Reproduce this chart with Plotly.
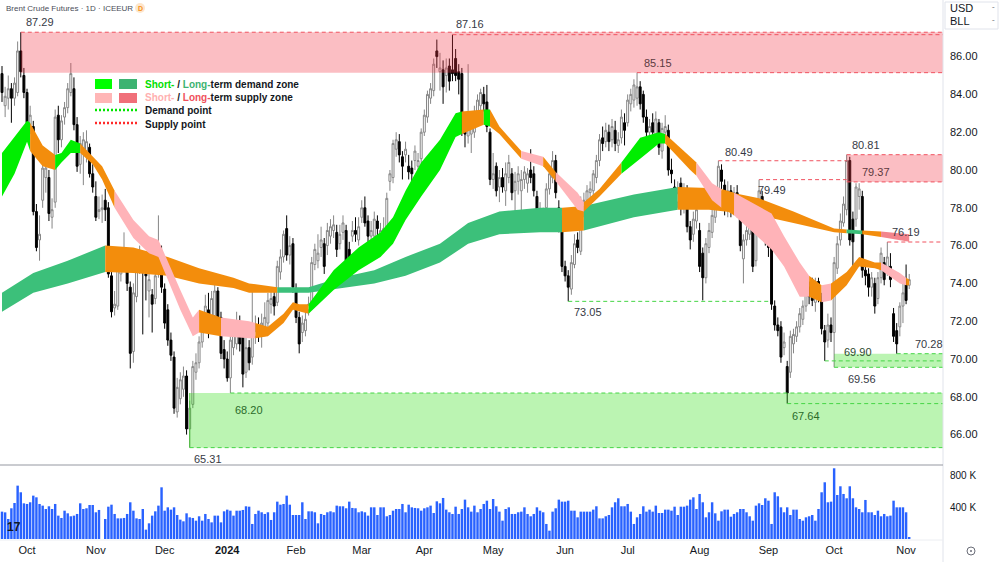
import plotly.graph_objects as go
import pandas as pd

# ---------------- trading days shown on the chart ----------------
holidays = ["2023-12-25", "2024-01-01", "2024-03-29"]
dates = [d for d in pd.bdate_range("2023-09-20", "2024-11-04")
         if d.strftime("%Y-%m-%d") not in holidays]

month_keys = ["2023-10", "2023-11", "2023-12", "2024-01", "2024-02", "2024-03", "2024-04",
              "2024-05", "2024-06", "2024-07", "2024-08", "2024-09", "2024-10", "2024-11"]
month_labels = ["Oct", "Nov", "Dec", "<b>2024</b>", "Feb", "Mar", "Apr",
                "May", "Jun", "Jul", "Aug", "Sep", "Oct", "Nov"]

# ---------------- daily OHLC (USD/bbl) ----------------
opens = [
    85.1, 83.4, 83.8, 84.3, 83.8, 84.1, 86.3, 85.0, 84.1, 82.4,
    82.3, 77.8, 76.3, 78.4, 79.6, 79.6, 77.5, 78.3, 82.9, 81.6,
    82.8, 83.3, 84.1, 84.3, 82.4, 80.3, 80.9, 81.0, 81.2, 79.8,
    78.6, 77.8, 77.9, 78.4, 78.0, 74.4, 72.7, 72.8, 74.5, 75.2,
    75.2, 73.8, 70.4, 73.3, 74.9, 75.3, 74.5, 73.6, 73.4, 73.2,
    74.6, 75.6, 73.7, 72.6, 71.0, 70.1, 67.2, 67.9, 68.4, 69.1,
    66.3, 67.6, 69.3, 69.8, 70.9, 72.2, 72.6, 72.0, 72.3, 73.6,
    72.2, 70.5, 70.0, 69.0, 70.6, 70.8, 71.9, 71.2, 69.3, 70.6,
    70.1, 71.2, 71.7, 71.2, 71.6, 71.9, 72.9, 73.3, 73.0, 74.6,
    75.4, 76.9, 75.5, 76.1, 73.7, 72.2, 71.4, 71.5, 72.6, 72.8,
    75.0, 75.2, 75.9, 76.1, 76.0, 76.5, 76.8, 76.7, 76.1, 76.7,
    76.8, 75.8, 76.5, 76.8, 76.3, 77.5, 78.0, 77.3, 76.5, 76.5,
    77.3, 76.4, 76.6, 76.8, 79.4, 79.6, 81.1, 81.5, 80.7, 80.8,
    80.2, 80.1, 80.5, 80.2, 80.6, 82.0, 82.8, 83.8, 84.2, 86.3,
    85.2, 85.3, 85.0, 85.5, 85.3, 85.9, 85.2, 85.1, 82.3, 81.8,
    81.9, 82.0, 82.6, 83.4, 84.0, 83.6, 82.0, 79.5, 80.2, 79.1,
    79.6, 78.9, 79.6, 79.8, 78.9, 79.4, 78.9, 79.5, 79.3, 80.0,
    79.8, 78.6, 77.6, 77.6, 78.0, 79.0, 79.6, 80.5, 78.0, 77.3,
    74.9, 74.4, 73.7, 75.0, 76.3, 75.7, 77.9, 78.4, 78.8, 78.9,
    79.6, 80.5, 81.7, 81.5, 82.0, 81.6, 82.1, 81.3, 81.7, 82.5,
    82.5, 83.5, 83.7, 83.8, 84.4, 84.0, 82.8, 82.0, 82.5, 81.9,
    82.5, 81.0, 82.0, 82.1, 80.0, 79.1, 78.3, 79.3, 78.0, 78.9,
    77.0, 76.6, 77.3, 76.8, 75.6, 74.3, 75.9, 76.7, 77.5, 78.3,
    80.0, 79.2, 77.9, 78.9, 77.9, 78.8, 77.9, 75.3, 76.3, 76.6,
    77.2, 75.2, 77.6, 78.6, 77.6, 76.6, 75.9, 72.8, 71.8, 71.7,
    70.6, 69.6, 69.3, 70.8, 71.2, 71.7, 72.1, 72.8, 73.8, 73.7,
    73.0, 74.1, 73.3, 71.5, 71.0, 71.8, 71.4, 74.8, 76.3, 77.2,
    77.9, 80.5, 77.4, 77.4, 78.6, 78.6, 74.7, 74.5, 73.8, 74.0,
    73.2, 74.3, 75.1, 74.7, 74.9, 72.4, 71.5, 71.7, 72.8, 74.2,
    73.9,
]
highs = [
    85.5, 84.4, 85.0, 84.6, 84.9, 86.8, 87.29, 85.4, 84.3, 83.4,
    82.6, 78.2, 77.6, 80.4, 80.3, 80.0, 78.5, 83.2, 83.4, 82.9,
    83.6, 84.6, 85.66, 84.9, 82.8, 81.8, 82.0, 82.1, 81.4, 80.3,
    79.4, 78.6, 78.7, 79.0, 78.3, 74.6, 73.6, 75.2, 75.6, 76.7,
    75.6, 74.1, 74.0, 75.5, 76.0, 75.6, 74.9, 74.6, 73.7, 74.7,
    77.6, 76.0, 74.0, 72.9, 71.4, 70.4, 69.0, 69.3, 69.6, 69.4,
    67.8, 69.9, 70.3, 71.2, 72.5, 73.4, 73.5, 73.6, 74.4, 73.8,
    72.5, 71.0, 70.4, 71.4, 72.0, 72.5, 72.3, 71.6, 71.3, 71.0,
    73.8, 72.3, 72.2, 72.4, 73.0, 73.5, 73.7, 73.8, 75.2, 75.8,
    76.8, 77.6, 76.5, 76.4, 74.0, 72.5, 72.3, 72.6, 73.3, 75.4,
    76.1, 76.6, 77.0, 76.4, 77.2, 77.4, 77.6, 77.1, 77.1, 77.6,
    77.1, 76.2, 77.3, 77.5, 77.5, 78.4, 78.6, 77.6, 77.3, 77.8,
    77.6, 77.2, 77.5, 78.8, 80.0, 81.6, 82.0, 81.9, 81.0, 81.5,
    80.8, 80.5, 81.3, 80.9, 82.2, 83.2, 84.2, 84.6, 85.9, 86.9,
    86.2, 85.8, 85.9, 85.9, 87.16, 86.4, 85.6, 85.4, 82.6, 85.6,
    83.0, 83.4, 84.0, 84.3, 84.4, 84.5, 82.2, 80.9, 80.4, 80.0,
    80.1, 80.4, 80.8, 80.1, 79.9, 80.2, 80.0, 80.2, 80.1, 81.1,
    80.2, 78.9, 78.3, 78.0, 79.3, 80.0, 81.0, 80.8, 78.4, 77.6,
    75.2, 74.7, 75.5, 76.6, 76.7, 78.6, 78.8, 79.2, 79.4, 80.0,
    80.8, 81.9, 82.3, 82.5, 82.4, 82.7, 82.6, 82.0, 83.2, 83.0,
    84.0, 84.3, 84.8, 85.15, 84.7, 84.2, 83.2, 82.7, 83.0, 83.1,
    82.7, 82.5, 82.9, 82.4, 80.6, 79.5, 79.4, 79.6, 79.3, 79.2,
    77.3, 77.8, 78.3, 77.2, 75.9, 76.4, 77.2, 78.0, 78.6, 80.49,
    80.3, 79.5, 79.4, 79.2, 79.1, 79.2, 78.1, 76.6, 77.2, 77.6,
    77.4, 77.6, 79.49, 78.9, 77.9, 76.9, 76.2, 73.1, 72.2, 72.0,
    71.4, 69.9, 71.5, 71.6, 72.0, 72.7, 73.1, 74.2, 74.1, 74.3,
    74.3, 74.3, 73.5, 71.8, 72.4, 72.2, 75.4, 76.5, 77.7, 78.6,
    80.81, 80.7, 77.8, 79.3, 79.3, 78.9, 75.2, 74.8, 74.6, 74.3,
    74.6, 75.9, 75.4, 76.19, 75.6, 72.7, 71.9, 73.0, 74.1, 75.0,
    74.5,
]
lows = [
    83.6, 82.8, 83.2, 82.5, 83.4, 83.9, 84.9, 83.8, 82.3, 81.9,
    77.6, 75.7, 75.2, 78.0, 78.8, 77.3, 76.9, 78.0, 80.9, 81.2,
    82.4, 83.0, 83.9, 82.1, 79.9, 79.8, 79.2, 80.4, 79.6, 78.8,
    77.3, 77.4, 77.2, 77.3, 74.3, 72.2, 72.3, 72.6, 74.1, 74.9,
    73.6, 69.5, 69.8, 73.0, 74.5, 71.3, 73.1, 72.2, 71.4, 72.9,
    74.3, 73.5, 71.6, 70.7, 69.9, 67.1, 66.9, 67.6, 68.0, 66.0,
    65.31, 67.4, 68.9, 69.5, 70.6, 71.9, 71.1, 71.6, 72.0, 71.9,
    70.0, 69.5, 68.8, 68.2, 70.2, 70.5, 70.4, 68.5, 69.0, 69.4,
    69.7, 70.8, 70.9, 70.6, 71.2, 71.6, 72.4, 72.3, 72.8, 74.2,
    75.1, 75.2, 75.0, 73.5, 71.9, 70.3, 70.9, 71.2, 72.3, 72.6,
    74.7, 74.8, 75.4, 74.5, 75.5, 76.1, 76.4, 75.4, 75.8, 76.3,
    74.9, 74.8, 76.2, 76.2, 76.0, 77.2, 77.0, 76.2, 76.1, 76.2,
    76.4, 75.9, 75.6, 76.6, 78.9, 79.3, 80.7, 80.4, 79.5, 80.4,
    79.5, 79.3, 80.0, 79.9, 80.3, 81.8, 82.5, 83.5, 83.9, 85.4,
    84.2, 83.5, 84.1, 84.2, 84.7, 84.7, 84.0, 81.8, 81.2, 81.4,
    80.9, 81.7, 82.3, 83.0, 83.1, 82.0, 79.2, 79.0, 78.6, 78.3,
    78.8, 78.1, 79.3, 78.4, 77.6, 78.7, 77.2, 79.0, 78.8, 79.3,
    78.6, 77.4, 77.1, 76.8, 77.7, 78.7, 79.3, 78.5, 76.7, 74.6,
    74.1, 73.05, 73.4, 74.8, 75.6, 75.5, 77.5, 78.1, 78.3, 78.6,
    79.3, 80.2, 81.0, 81.2, 81.0, 81.2, 81.0, 80.9, 81.4, 81.3,
    82.3, 83.1, 83.3, 83.4, 83.2, 82.5, 81.5, 81.6, 81.5, 81.5,
    80.8, 80.6, 81.6, 79.7, 79.3, 77.9, 78.0, 77.6, 77.7, 76.7,
    75.8, 76.2, 76.9, 74.6, 73.1, 74.0, 75.6, 76.4, 77.2, 78.0,
    79.0, 77.6, 77.5, 77.5, 77.6, 77.5, 75.7, 74.0, 76.0, 76.3,
    74.6, 74.9, 77.3, 77.3, 76.0, 75.4, 72.6, 71.5, 71.2, 69.8,
    70.2, 67.64, 69.0, 70.3, 70.9, 71.4, 71.8, 72.5, 72.9, 72.8,
    72.5, 73.0, 71.3, 69.90, 70.6, 70.9, 69.56, 74.5, 76.0, 77.0,
    77.6, 76.0, 74.9, 77.0, 77.9, 74.3, 73.9, 73.3, 73.3, 72.4,
    72.9, 74.0, 73.9, 74.4, 73.8, 70.9, 70.28, 71.2, 71.9, 72.9,
    73.7,
]
closes = [
    84.1, 83.9, 84.3, 83.8, 84.6, 86.3, 85.2, 84.1, 82.5, 82.9,
    77.8, 75.9, 76.6, 80.1, 80.1, 77.7, 77.9, 82.8, 81.6, 82.6,
    83.3, 84.3, 85.1, 82.4, 80.2, 81.4, 81.6, 81.5, 79.8, 79.1,
    77.5, 77.9, 78.0, 77.9, 74.5, 72.5, 72.9, 74.7, 75.3, 75.8,
    74.0, 70.3, 73.5, 75.2, 75.3, 74.8, 74.4, 74.2, 72.9, 74.4,
    75.7, 73.8, 71.9, 71.0, 70.2, 67.4, 68.5, 68.9, 69.1, 66.3,
    67.4, 69.6, 69.8, 70.9, 72.2, 72.8, 71.8, 73.2, 73.6, 72.2,
    70.3, 70.0, 69.0, 71.0, 71.6, 71.9, 70.8, 69.2, 70.6, 69.8,
    71.2, 71.5, 71.4, 71.9, 72.2, 73.1, 73.2, 72.8, 74.9, 75.4,
    76.6, 75.5, 76.0, 73.8, 72.2, 70.8, 71.9, 72.1, 72.9, 75.1,
    75.8, 75.6, 76.3, 74.9, 76.8, 77.0, 77.1, 75.8, 76.6, 77.2,
    75.2, 75.3, 76.8, 76.6, 77.0, 78.0, 77.2, 76.5, 76.8, 77.4,
    76.9, 76.8, 76.9, 78.5, 79.8, 81.4, 81.6, 80.8, 80.2, 81.1,
    79.9, 79.8, 81.0, 80.5, 82.0, 82.9, 84.0, 84.3, 85.6, 86.0,
    85.4, 84.4, 85.4, 84.7, 85.1, 85.0, 84.8, 82.1, 81.9, 82.4,
    82.6, 83.0, 83.7, 84.1, 83.5, 82.3, 79.5, 79.8, 78.9, 79.6,
    79.1, 79.8, 80.4, 78.8, 79.4, 79.8, 79.5, 79.9, 79.8, 79.6,
    78.9, 77.7, 77.9, 77.4, 79.0, 79.8, 80.5, 78.8, 77.0, 74.9,
    74.4, 73.8, 75.1, 76.1, 75.9, 78.3, 78.4, 78.9, 79.0, 79.8,
    80.5, 81.6, 81.4, 82.1, 81.5, 82.3, 81.4, 81.6, 82.8, 82.1,
    83.7, 84.0, 84.5, 84.4, 83.5, 82.8, 82.0, 82.3, 82.0, 82.7,
    81.2, 82.2, 82.3, 80.0, 79.8, 78.2, 78.8, 78.0, 78.9, 77.0,
    76.3, 77.4, 77.9, 74.9, 74.3, 76.1, 76.8, 77.6, 78.3, 80.2,
    79.4, 77.9, 78.9, 77.9, 78.8, 78.0, 76.0, 76.3, 76.8, 77.3,
    74.9, 77.3, 78.9, 77.6, 76.3, 75.9, 72.9, 71.8, 71.5, 70.1,
    70.9, 68.2, 71.2, 71.3, 71.7, 72.4, 72.8, 73.8, 73.3, 73.1,
    74.1, 73.5, 71.6, 70.9, 71.8, 71.4, 75.1, 76.1, 77.3, 78.2,
    80.5, 76.3, 76.2, 79.1, 79.0, 74.7, 74.4, 73.8, 74.3, 72.8,
    74.3, 75.6, 74.2, 75.4, 74.2, 71.2, 70.8, 72.8, 73.5, 73.1,
    74.2,
]
# ---------------- daily volume (thousands of contracts) ----------------
volume = [
    342, 333, 250, 384, 450, 667, 584, 446, 438, 459,
    542, 521, 438, 417, 375, 409, 375, 438, 292, 263,
    354, 321, 284, 292, 313, 446, 375, 384, 425, 425,
    334, 363, 0, 250, 404, 429, 313, 258, 258, 263,
    313, 459, 354, 258, 250, 375, 117, 196, 292, 346,
    417, 646, 354, 396, 367, 396, 300, 242, 221, 321,
    271, 263, 229, 284, 229, 313, 250, 208, 292, 292,
    208, 346, 367, 354, 292, 354, 354, 363, 409, 404,
    188, 313, 354, 334, 313, 334, 238, 334, 467, 429,
    438, 542, 429, 300, 300, 300, 459, 250, 346, 346,
    334, 196, 313, 300, 334, 346, 334, 417, 409, 409,
    384, 467, 388, 384, 334, 346, 334, 292, 396, 396,
    300, 396, 396, 284, 300, 354, 375, 375, 438, 334,
    429, 396, 388, 384, 354, 384, 396, 417, 325, 471,
    446, 513, 367, 334, 313, 404, 313, 375, 492, 396,
    342, 417, 334, 375, 438, 479, 375, 500, 409, 342,
    229, 375, 396, 313, 313, 334, 342, 396, 313, 284,
    313, 396, 354, 334, 188, 104, 342, 384, 492, 467,
    467, 479, 354, 354, 271, 342, 342, 342, 342, 367,
    409, 258, 258, 284, 300, 396, 459, 509, 409, 409,
    438, 342, 188, 271, 313, 409, 342, 367, 342, 417,
    325, 325, 367, 367, 354, 404, 300, 404, 404, 417,
    492, 521, 375, 563, 459, 271, 334, 459, 321, 229,
    346, 367, 367, 279, 313, 334, 375, 375, 334, 284,
    229, 417, 446, 425, 509, 479, 188, 584, 534, 396,
    334, 396, 300, 367, 367, 250, 229, 271, 284, 300,
    229, 375, 584, 709, 459, 467, 884, 550, 659, 563,
    509, 659, 509, 396, 375, 334, 488, 334, 334, 300,
    354, 284, 313, 284, 292, 479, 396, 396, 396, 334,
    21,
]

# ---------------- moving-average ribbons (sampled edges) ----------------
short_idx = [0, 4, 8, 9, 13, 17, 19, 22, 25, 29, 32, 36, 42, 47, 50, 57, 61, 63, 70, 79,
             81, 85, 90, 93, 95, 98, 106, 114, 121, 125, 129, 134, 140, 145, 147, 154, 156, 159, 166, 173,
             177, 184, 186, 191, 198, 204, 210, 212, 220, 222, 227, 230, 234, 246, 250, 255, 258, 262, 265, 270,
             274, 279, 281, 287, 289, 290]
short_top = [80.9, 81.75, 82.6, 82.5, 81.3, 80.8, 80.9, 81.6, 81.4, 80.7, 80.2, 78.9, 77.35, 76.5, 76.3, 73.65, 72.2, 72.6, 72.2, 72.0,
             71.9, 71.7, 72.4, 73.0, 72.9, 72.9, 74.7, 75.9, 76.7, 77.5, 78.9, 80.4, 81.6, 83.0, 83.1, 83.2, 83.2, 82.3, 81.0, 80.7,
             79.9, 78.8, 78.3, 79.0, 80.4, 81.7, 82.0, 81.9, 80.7, 80.4, 79.3, 79.0, 78.8, 77.7, 76.5, 75.1, 74.4, 73.9, 74.0, 74.6,
             75.4, 75.1, 75.1, 74.55, 74.3, 74.2]
short_bot = [78.6, 79.8, 81.5, 81.0, 80.2, 80.0, 80.4, 80.9, 80.9, 80.3, 79.5, 78.0, 76.4, 75.6, 75.4, 72.6, 71.2, 71.4, 71.2, 71.1,
             71.1, 71.2, 71.9, 72.6, 72.5, 72.4, 73.65, 74.7, 75.4, 76.1, 77.35, 78.6, 80.0, 81.75, 81.9, 82.4, 82.3, 81.9, 80.6, 80.2,
             79.4, 77.9, 77.8, 78.6, 79.8, 80.6, 81.4, 81.4, 80.0, 79.7, 78.4, 78.0, 77.6, 75.8, 74.9, 73.3, 73.3, 73.0, 73.1, 73.9,
             74.9, 74.8, 74.7, 74.0, 73.9, 73.9]
short_state = ["G", "G", "G", "O", "O", "G", "G", "G", "O", "O", "O", "P", "P", "P", "P", "P", "P", "O", "P", "P",
               "O", "O", "O", "O", "O", "G", "G", "G", "G", "G", "G", "G", "G", "G", "O", "G", "O", "O", "P", "O",
               "P", "P", "O", "O", "G", "G", "G", "O", "O", "P", "P", "O", "P", "P", "P", "P", "O", "P", "O", "O",
               "O", "O", "P", "P", "O", "O"]

long_idx = [0, 10, 21, 33, 42, 53, 63, 74, 79, 88, 98, 108, 119, 129, 140, 149, 159, 172, 179, 186,
            202, 216, 226, 242, 253, 266, 270, 275, 281, 290]
long_top = [73.5, 74.55, 75.2, 76.0, 75.9, 75.4, 74.8, 74.3, 74.0, 73.8, 73.8, 74.3, 74.7, 75.4, 76.1, 77.2, 77.8, 78.0, 78.0, 78.1,
            78.7, 79.1, 79.05, 78.5, 77.8, 76.9, 76.85, 76.8, 76.75, 76.6]
long_bot = [72.5, 73.5, 74.0, 74.6, 74.55, 74.4, 74.0, 73.75, 73.5, 73.5, 73.5, 73.75, 74.0, 74.4, 75.1, 76.1, 76.6, 76.7, 76.7, 76.8,
            77.5, 77.9, 77.9, 77.6, 77.2, 76.7, 76.65, 76.6, 76.45, 76.2]
long_state = ["G", "G", "G", "O", "O", "O", "O", "O", "O", "G", "G", "G", "G", "G", "G", "G", "G", "G", "O", "G",
              "G", "O", "O", "O", "O", "O", "G", "O", "R", "R"]

# ---------------- supply / demand points and zones ----------------
supply_idx = [6, 144, 203, 229, 242, 270, 270, 283]
supply_val = [87.29, 87.16, 85.15, 80.49, 79.49, 80.81, 79.37, 76.19]
supply_end = [None, None, None, 270, 270, None, None, None]
demand_idx = [60, 73, 181, 251, 263, 266, 286]
demand_val = [65.31, 68.20, 73.05, 67.64, 69.90, 69.56, 70.28]
demand_end = [None, None, 245, None, None, None, None]
supply_zones = [(6, 85.15, 87.29), (270, 79.37, 80.81)]
demand_zones = [(60, 65.31, 68.20), (266, 69.56, 70.28)]

# ================= styling / layout =================
W, H = 1000, 562
PLOT_W, PLOT_H = 943, 540          # plot area in pixels (margins r=57, b=22)
X_RANGE = [-0.64, 300.8]
Y_RANGE = [64.497, 88.995]
V_RANGE = [-12.5, 912.5]
FONT = "Liberation Sans, Arial, sans-serif"
TXT = "#131722"

PAL_SHORT = {"G": "#00ee00", "O": "#f38d0c", "P": "#ffb3b8"}
PAL_LONG = {"G": "#3cc07a", "O": "#f38d0c", "R": "#f3858c"}
RED_DASH = "#f0525f"
GREEN_DASH = "#45d545"


def px(xp):
    return xp / PLOT_W


def py(yp):
    return 1 - yp / PLOT_H


x = list(range(len(closes)))
n = min(len(x), len(opens), len(highs), len(lows), len(volume), len(dates))
x = x[:n]

fig = go.Figure()


def ribbon(idx, top, bot, state, pal):
    j = 0
    m = len(idx)
    while j < m - 1:
        c = state[j]
        k = j
        while k + 1 < m - 1 and state[k + 1] == c:
            k += 1
        xs = idx[j:k + 2]
        ts = top[j:k + 2]
        bs = bot[j:k + 2]
        fig.add_trace(go.Scatter(
            x=list(xs) + list(xs[::-1]), y=list(ts) + list(bs[::-1]),
            fill="toself", fillcolor=pal[c], mode="lines", line=dict(width=0),
            hoverinfo="skip", xaxis="x", yaxis="y"))
        j = k + 1


ribbon(long_idx, long_top, long_bot, long_state, PAL_LONG)
ribbon(short_idx, short_top, short_bot, short_state, PAL_SHORT)

fig.add_trace(go.Candlestick(
    x=x, open=opens[:n], high=highs[:n], low=lows[:n], close=closes[:n],
    text=[d.strftime("%Y-%m-%d") for d in dates[:n]],
    increasing=dict(line=dict(color="#868686", width=1), fillcolor="#ffffff"),
    decreasing=dict(line=dict(color="#000000", width=1), fillcolor="#000000"),
    whiskerwidth=0, xaxis="x", yaxis="y"))

fig.add_trace(go.Bar(
    x=x, y=volume[:n], marker=dict(color="#2962ff", line=dict(width=0)),
    xaxis="x2", yaxis="y2", hoverinfo="skip"))

shapes = []
# zones (drawn over the candles, translucent)
for i0, lo, hi in supply_zones:
    shapes.append(dict(type="rect", xref="x", yref="y", x0=i0, x1=X_RANGE[1], y0=lo, y1=hi,
                       fillcolor="rgba(242,54,69,0.32)", line=dict(width=0), layer="above"))
for i0, lo, hi in demand_zones:
    shapes.append(dict(type="rect", xref="x", yref="y", x0=i0, x1=X_RANGE[1], y0=lo, y1=hi,
                       fillcolor="rgba(30,220,0,0.30)", line=dict(width=0), layer="above"))
shapes.append(dict(type="line", xref="x", yref="y", x0=demand_zones[0][0], x1=demand_zones[0][0],
                   y0=demand_zones[0][1], y1=demand_zones[0][2],
                   line=dict(color="rgba(60,200,40,0.8)", width=1), layer="above"))

# supply / demand point lines
for i0, v, e in zip(supply_idx, supply_val, supply_end):
    shapes.append(dict(type="line", xref="x", yref="y", x0=i0, x1=(e if e is not None else X_RANGE[1]),
                       y0=v, y1=v, line=dict(color=RED_DASH, width=1, dash="4px,3px"), layer="above"))
for i0, v, e in zip(demand_idx, demand_val, demand_end):
    shapes.append(dict(type="line", xref="x", yref="y", x0=i0, x1=(e if e is not None else X_RANGE[1]),
                       y0=v, y1=v, line=dict(color=GREEN_DASH, width=1, dash="4px,3px"), layer="above"))

# frame lines
shapes.append(dict(type="line", xref="paper", yref="paper", x0=1, x1=1, y0=-0.05, y1=1,
                   line=dict(color="#e0e3eb", width=1)))
shapes.append(dict(type="line", xref="paper", yref="paper", x0=0, x1=1, y0=py(465), y1=py(465),
                   line=dict(color="#9598a1", width=1)))
shapes.append(dict(type="line", xref="paper", yref="paper", x0=0, x1=1, y0=py(540), y1=py(540),
                   line=dict(color="#eceef2", width=1)))

# legend swatches
shapes += [
    dict(type="rect", xref="paper", yref="paper", x0=px(95), x1=px(112), y0=py(89), y1=py(79),
         fillcolor="#00ff00", line=dict(width=0)),
    dict(type="rect", xref="paper", yref="paper", x0=px(119), x1=px(137), y0=py(89), y1=py(79),
         fillcolor="#3cb371", line=dict(width=0)),
    dict(type="rect", xref="paper", yref="paper", x0=px(95), x1=px(112), y0=py(103), y1=py(93),
         fillcolor="#ffb6b6", line=dict(width=0)),
    dict(type="rect", xref="paper", yref="paper", x0=px(119), x1=px(137), y0=py(103), y1=py(93),
         fillcolor="#f0707a", line=dict(width=0)),
    dict(type="line", xref="paper", yref="paper", x0=px(95), x1=px(137), y0=py(110), y1=py(110),
         line=dict(color="#00e600", width=2.5, dash="2px,2px")),
    dict(type="line", xref="paper", yref="paper", x0=px(95), x1=px(137), y0=py(123), y1=py(123),
         line=dict(color="#ff2a2a", width=2.5, dash="2px,2px")),
]
# header badge, currency box, bottom icon
shapes += [
    dict(type="circle", xref="paper", yref="paper", x0=px(135), x1=px(145), y0=py(13), y1=py(3),
         fillcolor="#fde6cc", line=dict(width=0)),
    dict(type="rect", xref="paper", yref="paper", x0=px(945), x1=px(998), y0=py(29), y1=py(2),
         fillcolor="white", line=dict(color="#e0e3eb", width=1)),
    dict(type="circle", xref="paper", yref="paper", x0=px(967), x1=px(975), y0=py(555), y1=py(547),
         line=dict(color="#6a6d78", width=1)),
    dict(type="circle", xref="paper", yref="paper", x0=px(970), x1=px(972), y0=py(552), y1=py(550),
         fillcolor="#6a6d78", line=dict(width=0)),
]

annotations = []
# price labels at the supply / demand points
label_style = {
    87.29: ("bottom", 3, 2, "#363a45"), 87.16: ("bottom", 2, 3, "#363a45"),
    85.15: ("bottom", 5, 2, "#5c3a40"), 80.49: ("bottom", 5, 1, "#363a45"),
    80.81: ("bottom", 3, 2, "#363a45"), 79.49: ("top", -3, -2, "#363a45"),
    79.37: ("bottom", 13, 2, "#5c3a40"), 76.19: ("bottom", 3, 2, "#363a45"),
    73.05: ("top", 4, -3, "#363a45"), 70.28: ("bottom", 16, 2, "#363a45"),
    69.90: ("bottom", 17, 1, "#2e4a30"), 69.56: ("top", 12, -4, "#363a45"),
    67.64: ("top", 3, -4, "#2a6b2a"), 68.20: ("top", 3, -9, "#2a6b2a"),
    65.31: ("top", 2, -3, "#363a45"),
}
for i0, v in list(zip(supply_idx, supply_val)) + list(zip(demand_idx, demand_val)):
    ya, xs, ys, col = label_style[v]
    annotations.append(dict(x=i0, y=v, xref="x", yref="y", text=f"{v:.2f}", showarrow=False,
                            xanchor="left", yanchor=ya, xshift=xs, yshift=ys,
                            font=dict(family=FONT, size=11, color=col)))

# legend texts
leg_font = dict(family=FONT, size=10, color="#131722")
annotations += [
    dict(x=px(143), y=py(84), xref="paper", yref="paper", xanchor="left", yanchor="middle", showarrow=False,
         text='<b><span style="color:#00e000">Short-</span> / <span style="color:#3cb371">Long-</span>term demand zone</b>',
         font=leg_font),
    dict(x=px(143), y=py(98), xref="paper", yref="paper", xanchor="left", yanchor="middle", showarrow=False,
         text='<b><span style="color:#ffb0b0">Short-</span> / <span style="color:#f0505c">Long-</span>term supply zone</b>',
         font=leg_font),
    dict(x=px(143), y=py(111), xref="paper", yref="paper", xanchor="left", yanchor="middle", showarrow=False,
         text="<b>Demand point</b>", font=leg_font),
    dict(x=px(143), y=py(124), xref="paper", yref="paper", xanchor="left", yanchor="middle", showarrow=False,
         text="<b>Supply point</b>", font=leg_font),
]
# header and misc texts
annotations += [
    dict(x=px(4), y=py(8), xref="paper", yref="paper", xanchor="left", yanchor="middle", showarrow=False,
         text="Brent Crude Futures · 1D · ICEEUR", font=dict(family=FONT, size=8, color="#4a4d58")),
    dict(x=px(140), y=py(8), xref="paper", yref="paper", xanchor="center", yanchor="middle", showarrow=False,
         text="<b>D</b>", font=dict(family=FONT, size=7, color="#f7931a")),
    dict(x=px(948), y=py(8), xref="paper", yref="paper", xanchor="left", yanchor="middle", showarrow=False,
         text="USD", font=dict(family=FONT, size=11, color=TXT)),
    dict(x=px(948), y=py(21), xref="paper", yref="paper", xanchor="left", yanchor="middle", showarrow=False,
         text="BLL", font=dict(family=FONT, size=11, color=TXT)),
    dict(x=px(994), y=py(9), xref="paper", yref="paper", xanchor="center", yanchor="middle", showarrow=False,
         text="ˇ", font=dict(family=FONT, size=8, color="#6a6d78")),
    dict(x=px(994), y=py(22), xref="paper", yref="paper", xanchor="center", yanchor="middle", showarrow=False,
         text="ˇ", font=dict(family=FONT, size=8, color="#6a6d78")),
    dict(x=px(5), y=py(527), xref="paper", yref="paper", xanchor="left", yanchor="middle", showarrow=False,
         text="<b>17</b>", font=dict(family=FONT, size=12, color=TXT)),
]

tick_idx = []
for key in month_keys:
    for i, d in enumerate(dates[:n]):
        if d.strftime("%Y-%m") == key:
            tick_idx.append(i)
            break

price_ticks = list(range(66, 88, 2))

fig.update_layout(
    width=W, height=H,
    margin=dict(l=0, r=W - PLOT_W, t=0, b=H - PLOT_H),
    paper_bgcolor="white", plot_bgcolor="white",
    showlegend=False, boxgap=0.12, bargap=0.22,
    font=dict(family=FONT, color=TXT),
    xaxis=dict(domain=[0, 1], range=X_RANGE, anchor="y", showgrid=False, zeroline=False,
               showticklabels=False, rangeslider=dict(visible=False), fixedrange=True),
    yaxis=dict(domain=[py(463), 1], range=Y_RANGE, side="right", showgrid=False, zeroline=False,
               tickvals=price_ticks, ticktext=[f"{v:.2f}" for v in price_ticks], ticks="",
               ticklabelstandoff=6, tickfont=dict(family=FONT, size=11, color=TXT)),
    xaxis2=dict(domain=[0, 1], range=X_RANGE, anchor="y2", matches="x", showgrid=False, zeroline=False,
                tickvals=tick_idx, ticktext=month_labels[:len(tick_idx)], ticks="",
                ticklabelstandoff=2, tickfont=dict(family=FONT, size=11, color=TXT)),
    yaxis2=dict(domain=[0, py(466)], range=V_RANGE, side="right", showgrid=False, zeroline=False,
                tickvals=[400, 800], ticktext=["400 K", "800 K"], ticks="", ticklabelstandoff=6,
                tickfont=dict(family=FONT, size=10, color=TXT)),
    shapes=shapes, annotations=annotations,
)

fig.write_html("out.html")
